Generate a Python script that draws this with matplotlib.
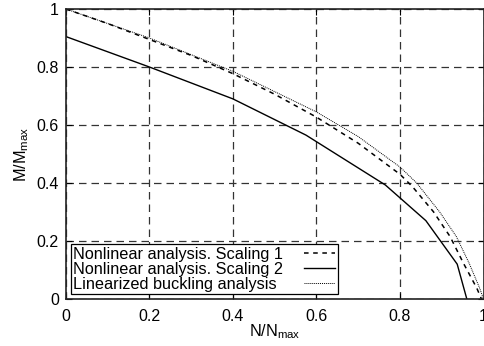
import matplotlib
matplotlib.use("Agg")
import matplotlib.pyplot as plt

# Interaction curves: normalised axial force vs. normalised moment
n_scaling1 = [0.0, 0.1, 0.2, 0.3, 0.4, 0.5, 0.6, 0.7, 0.8, 0.83, 0.88, 0.92, 0.952, 0.984, 0.995]
m_scaling1 = [1.0, 0.95, 0.895, 0.84, 0.777, 0.706, 0.627, 0.537, 0.43, 0.387, 0.301, 0.215, 0.123, 0.037, 0.0]

n_scaling2 = [0.0, 0.2, 0.4, 0.575, 0.765, 0.862, 0.937, 0.96]
m_scaling2 = [0.905, 0.8, 0.69, 0.565, 0.393, 0.27, 0.12, 0.0]

n_buckling = [0.0, 0.2, 0.4, 0.6, 0.7, 0.8, 0.84, 0.895, 0.935, 0.965, 0.99, 1.0]
m_buckling = [1.0, 0.9, 0.785, 0.645, 0.56, 0.455, 0.40, 0.30, 0.215, 0.125, 0.04, 0.0]

series_labels = ["Nonlinear analysis. Scaling 1",
                 "Nonlinear analysis. Scaling 2",
                 "Linearized buckling analysis"]

tick_values = [0, 0.2, 0.4, 0.6, 0.8, 1]
tick_labels = ["0", "0.2", "0.4", "0.6", "0.8", "1"]

plt.rcParams['font.family'] = ['Liberation Sans', 'DejaVu Sans']

fig = plt.figure(figsize=(4.84, 3.46), dpi=100)
ax = fig.add_axes([0.136, 0.136, 0.863, 0.838])

ax.plot(n_scaling1, m_scaling1, color='black', linestyle=(0, (3, 3)), linewidth=1.1,
        label=series_labels[0])
ax.plot(n_scaling2, m_scaling2, color='black', linestyle='-', linewidth=1.0,
        label=series_labels[1])
ax.plot(n_buckling, m_buckling, color='black', linestyle=(0, (1, 1)), linewidth=0.7,
        label=series_labels[2])

ax.set_xlim(0, 1)
ax.set_ylim(0, 1)
ax.set_xticks(tick_values)
ax.set_xticklabels(tick_labels)
ax.set_yticks(tick_values)
ax.set_yticklabels(tick_labels)
ax.tick_params(direction='in', length=4, labelsize=11.5, top=True, right=True,
               pad=5)
ax.tick_params(axis='x', pad=7)
ax.grid(True, color='#333333', linestyle=(0, (6, 4)), linewidth=0.9)

for s in ax.spines.values():
    s.set_color('#222222')
    s.set_linewidth(1.2)

ax.set_xlabel("N/N$_{\\mathregular{max}}$", fontsize=11.7, labelpad=-1)
ax.set_ylabel("M/M$_{\\mathregular{max}}$", fontsize=11.7, labelpad=4)

leg = ax.legend(loc='lower left', markerfirst=False, fontsize=11.7,
                labelspacing=0.0, handlelength=1.9, handletextpad=0.8,
                borderpad=0.15, borderaxespad=0.3, fancybox=False,
                framealpha=1, edgecolor='black')
leg.get_frame().set_linewidth(0.9)

# left-align the labels while keeping the line samples in one column on the right
for column in leg._legend_handle_box.get_children():
    column.align = "left"
    for item in column.get_children():
        item.mode = "expand"
        item.width = 262

fig.savefig("out.png", dpi=100)
